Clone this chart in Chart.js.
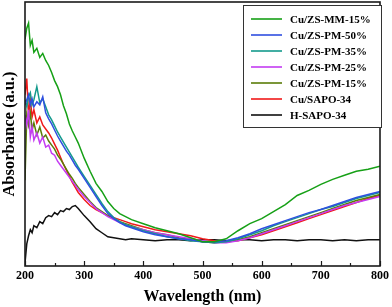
<!DOCTYPE html>
<html>
<head>
<meta charset="utf-8">
<script src="https://cdn.jsdelivr.net/npm/chart.js@4/dist/chart.umd.min.js"></script>
<style>
  body { margin: 0; background: #fff; }
  #wrap { width: 392px; height: 307px; position: relative; }
</style>
</head>
<body>
<div id="wrap"><canvas id="uvChart"></canvas></div>
<script>
// --- DATA ---
const wavelength = [200,203,206,209,212,215,220,225,230,235,240,245,250,255,260,265,270,275,280,285,290,300,310,320,330,340,350,360,370,380,400,420,440,460,480,500,520,540,560,580,600,620,640,660,680,700,720,740,760,780,800];

const seriesNames = ['Cu/ZS-MM-15%', 'Cu/ZS-PM-50%', 'Cu/ZS-PM-35%', 'Cu/ZS-PM-25%', 'Cu/ZS-PM-15%', 'Cu/SAPO-34', 'H-SAPO-34'];
const seriesColors = ['#16a016', '#2f4fe0', '#149a8c', '#c43cf2', '#5a7c08', '#f01a1a', '#111111'];

const mm15 = [225,236,241,219,224,212,216,207,211,204,199,192,184,178,170,159,151,141,134,128,122,107,94,82,74,64,57,52,49,46,42,38,35,32,28,24,24,27,35,42,47,54,61,70,75,81,86,90,94,96,99];
const pm50 = [160,165,170,160,166,158,163,160,168,152,146,141,135,129,124,119,114,110,105,100,96,87,78,69,60,52,47,43,40,38,34,31,29,27,26,24,24,25,28,32,37,41,45,49,53,56,60,64,68,71,74];
const pm35 = [165,158,168,172,160,165,178,162,166,158,150,145,139,133,128,123,118,113,108,103,98,89,80,71,62,54,48,44,41,39,35,32,29,27,25,24,23,24,27,31,35,40,44,48,52,56,59,63,67,70,73];
const pm25 = [150,140,155,128,138,125,132,122,128,118,120,112,110,104,100,96,92,88,84,80,76,69,63,57,53,49,46,43,41,39,36,33,31,29,27,25,23,23,25,28,32,36,40,44,48,52,56,60,63,66,69];
const pm15 = [85,150,140,152,135,142,130,138,127,130,124,120,116,110,106,101,96,91,87,82,78,71,64,58,54,50,47,44,42,40,36,33,31,28,26,24,23,24,26,29,33,37,41,45,49,53,57,61,65,68,71];
const cuSapo = [170,186,150,165,148,155,142,148,140,136,132,127,121,115,108,101,95,89,83,78,73,66,60,56,53,50,48,46,44,42,39,36,34,32,30,27,25,24,25,28,31,35,39,43,47,51,55,59,63,67,70];
const hSapo = [3,22,30,36,33,40,38,44,42,48,50,49,53,51,55,54,57,56,59,60,57,50,44,37,33,29,28,27,26,27,26,25,26,26,25,26,26,25,26,26,25,26,26,25,26,26,25,26,25,26,26];

const allSeries = [mm15, pm50, pm35, pm25, pm15, cuSapo, hSapo];

const serif = '"Liberation Serif", "Times New Roman", serif';

// frame, inward ticks and the boxed legend
const framePlugin = {
    id: 'frame',
    afterDraw(chart) {
        const { ctx, chartArea: a, scales: { x } } = chart;
        ctx.save();
        ctx.strokeStyle = '#1a1a1a';
        ctx.lineWidth = 1.6;
        ctx.strokeRect(a.left, a.top, a.right - a.left, a.bottom - a.top);

        ctx.lineWidth = 1.2;
        for (let v = 200; v <= 800; v += 50) {
            const px = Math.round(x.getPixelForValue(v)) + 0.5;
            const len = v % 100 === 0 ? 5 : 3;
            ctx.beginPath();
            ctx.moveTo(px, a.bottom);
            ctx.lineTo(px, a.bottom - len);
            ctx.stroke();
        }

        // legend
        const boxL = 243, boxT = 5, boxR = 381, boxB = 127;
        ctx.fillStyle = '#fff';
        ctx.fillRect(boxL, boxT, boxR - boxL, boxB - boxT);
        ctx.strokeStyle = '#333';
        ctx.lineWidth = 1;
        ctx.strokeRect(boxL + 0.5, boxT + 0.5, boxR - boxL, boxB - boxT);
        ctx.font = 'bold 11px ' + serif;
        ctx.textBaseline = 'middle';
        ctx.textAlign = 'left';
        chart.data.datasets.forEach((ds, i) => {
            const y = 19 + i * 16;
            ctx.strokeStyle = ds.borderColor;
            ctx.lineWidth = 1.6;
            ctx.beginPath();
            ctx.moveTo(251, y);
            ctx.lineTo(282, y);
            ctx.stroke();
            ctx.fillStyle = '#000';
            ctx.fillText(ds.label, 290, y + 1);
        });
        ctx.restore();
    }
};

new Chart(document.getElementById('uvChart'), {
    type: 'line',
    data: {
        labels: wavelength,
        datasets: seriesNames.map((name, i) => ({
            label: name,
            data: allSeries[i],
            borderColor: seriesColors[i],
            borderWidth: 1.5,
            pointRadius: 0,
            tension: 0,
            fill: false
        }))
    },
    options: {
        responsive: true,
        maintainAspectRatio: false,
        animation: false,
        layout: { padding: { top: 2, right: 10, bottom: 0, left: 0 } },
        plugins: { legend: { display: false }, tooltip: { enabled: false } },
        scales: {
            x: {
                type: 'linear',
                min: 200,
                max: 800,
                grid: { display: false, drawTicks: false },
                border: { display: false },
                ticks: {
                    stepSize: 100,
                    padding: 3,
                    color: '#000',
                    font: { family: serif, size: 12, weight: 'bold' }
                },
                title: {
                    display: true,
                    text: 'Wavelength (nm)',
                    color: '#000',
                    padding: { top: 0, bottom: 1 },
                    font: { family: serif, size: 16, weight: 'bold' }
                },
                afterFit(scale) { scale.height = 41; }
            },
            y: {
                min: 0,
                max: 262,
                grid: { display: false, drawTicks: false },
                border: { display: false },
                ticks: { display: false },
                title: {
                    display: true,
                    text: 'Absorbance (a.u.)',
                    color: '#000',
                    padding: 0,
                    font: { family: serif, size: 16.5, weight: 'bold' }
                },
                afterFit(scale) { scale.width = 25; }
            }
        }
    },
    plugins: [framePlugin]
});
</script>
</body>
</html>
